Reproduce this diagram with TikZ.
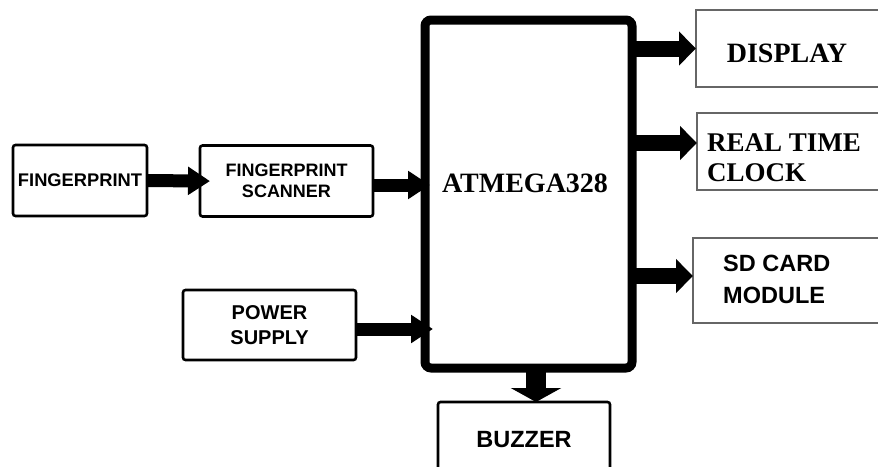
\documentclass[tikz,border=0pt]{standalone}
\usepackage{fontspec}
\setmainfont{Liberation Serif}
\setsansfont{Liberation Sans}
\usetikzlibrary{arrows.meta}
\begin{document}
\begin{tikzpicture}[x=1pt,y=-1pt,
  lbox/.style={draw=black,line width=2.6pt,rounded corners=2.5pt,inner sep=0pt,outer sep=0pt,align=center},
  rbox/.style={draw=black!60,line width=1.4pt,inner sep=0pt,outer sep=0pt},
  leftarrow/.style={line width=13pt,-{Triangle[width=27pt,length=22pt]}},
  rightarrow/.style={line width=16pt,-{Triangle[width=33pt,length=17pt]}},
  downarrow/.style={line width=20pt,-{Triangle[width=50pt,length=14pt]}},
  serift/.style={inner sep=0pt,align=left},
  sanst/.style={inner sep=0pt,align=left}]
\useasboundingbox (0,0) rectangle (878,466);
\clip (0,0) rectangle (878,466);
\fill[white] (0,0) rectangle (878,466);

% left boxes
\node[lbox,minimum width=134pt,minimum height=71pt,
  font=\sffamily\bfseries\fontsize{18.3}{21}\selectfont] (fp) at (80,180.5) {FINGERPRINT};
\node[lbox,minimum width=173pt,minimum height=71pt,
  font=\sffamily\bfseries\fontsize{18}{21}\selectfont] (scan) at (286.5,181) {FINGERPRINT\\ SCANNER};
\node[lbox,minimum width=173pt,minimum height=70pt,
  font=\sffamily\bfseries\fontsize{20}{25}\selectfont] (pwr) at (269.5,325) {POWER\\ SUPPLY};
\node[lbox,minimum width=172pt,minimum height=76pt,
  font=\sffamily\bfseries\fontsize{23.5}{25}\selectfont] (buz) at (524,440) {BUZZER};

% microcontroller
\node[draw=black,line width=9pt,rounded corners=6pt,inner sep=0pt,outer sep=0pt,
  minimum width=207pt,minimum height=348pt] (atm) at (528.5,194) {};
\node[serift,font=\rmfamily\bfseries\fontsize{28}{30}\selectfont] (atmt) at (525,183) {ATMEGA328};

% right boxes
\node[rbox,anchor=north west,minimum width=190pt,minimum height=77pt] (disp) at (696,10) {};
\node[serift,font=\rmfamily\bfseries\fontsize{28}{30}\selectfont] (dispt) at (787,53) {DISPLAY};
\node[rbox,anchor=north west,minimum width=190pt,minimum height=77pt] (rtc) at (697,113) {};
\node[serift,anchor=west,font=\rmfamily\bfseries\fontsize{27}{30}\selectfont] (rtct) at (707,158) {REAL TIME\\CLOCK};
\node[rbox,anchor=north west,minimum width=190pt,minimum height=85pt] (sd) at (693,238) {};
\node[sanst,anchor=west,font=\sffamily\bfseries\fontsize{23.5}{32}\selectfont] (sdt) at (723,279) {SD CARD\\MODULE};

% connectors
\draw[leftarrow,shorten >=-10pt] (fp.east) -- (scan.west);
\coordinate (s1) at ([yshift=-4pt]scan.east);
\draw[leftarrow,shorten >=-5pt] (s1) -- (s1 -| atm.west);
\coordinate (p1) at ([yshift=-4pt]pwr.east);
\draw[leftarrow,shorten >=-8pt] (p1) -- (p1 -| atm.west);

\draw[rightarrow] (atm.east |- disp.west) -- (disp.west);
\coordinate (r1) at ([yshift=8.5pt]rtc.west);
\draw[rightarrow] (atm.east |- r1) -- (r1);
\coordinate (d1) at ([yshift=4.5pt]sd.west);
\draw[rightarrow] (atm.east |- d1) -- (d1);

\coordinate (b1) at ([xshift=12pt]buz.north);
\draw[downarrow] (atm.south -| b1) -- (b1);
\end{tikzpicture}
\end{document}
